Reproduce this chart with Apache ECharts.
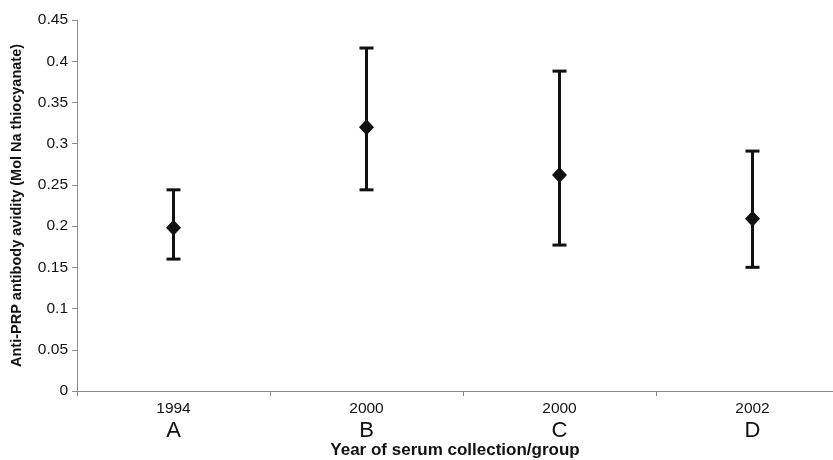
<!DOCTYPE html>
<html>
<head>
<meta charset="utf-8">
<script src="https://cdn.jsdelivr.net/npm/echarts@6/dist/echarts.min.js"></script>
<style>
  html, body { margin: 0; padding: 0; background: #fff; overflow: hidden; }
  /* the plot area runs past the right edge of the window, as in the original */
  #chart { width: 849px; height: 460px; }
</style>
</head>
<body>
<div id="chart"></div>
<script>
const years = ['1994', '2000', '2000', '2002'];
const groups = ['A', 'B', 'C', 'D'];
const means = [0.198, 0.320, 0.262, 0.209];
const lower = [0.160, 0.244, 0.177, 0.150];
const upper = [0.244, 0.416, 0.388, 0.291];
const yTicks = [0, 0.05, 0.1, 0.15, 0.2, 0.25, 0.3, 0.35, 0.4, 0.45];

const chart = echarts.init(document.getElementById('chart'));
const font = 'Liberation Sans, Arial, sans-serif';

chart.setOption({
  backgroundColor: '#fff',
  animation: false,
  textStyle: { fontFamily: font },
  grid: { left: 77, right: 0, top: 20, bottom: 69 },
  xAxis: {
    type: 'category',
    data: years.map((y, i) => y + '\n' + groups[i]),
    axisLine: { lineStyle: { color: '#8c8c8c', width: 1 } },
    axisTick: { show: true, length: 5, lineStyle: { color: '#8c8c8c' } },
    axisLabel: {
      margin: 8,
      formatter: (v) => {
        const parts = v.split('\n');
        return '{y|' + parts[0] + '}\n{l|' + parts[1] + '}';
      },
      rich: {
        y: { fontSize: 15.5, color: '#111', fontFamily: font, lineHeight: 19 },
        l: { fontSize: 22, color: '#111', fontFamily: font, lineHeight: 25 }
      }
    }
  },
  yAxis: {
    type: 'value',
    min: 0,
    max: 0.45,
    interval: 0.05,
    name: 'Anti-PRP antibody avidity (Mol Na thiocyanate)',
    nameLocation: 'middle',
    nameGap: 53,
    nameTextStyle: { fontSize: 14.5, fontWeight: 'bold', color: '#111', fontFamily: font },
    axisLine: { show: true, lineStyle: { color: '#8c8c8c', width: 1 } },
    axisTick: { show: true, length: 5, lineStyle: { color: '#8c8c8c' } },
    splitLine: { show: false },
    axisLabel: {
      fontSize: 15.5,
      color: '#111',
      margin: 9,
      formatter: (v) => {
        const t = yTicks.find((k) => Math.abs(k - v) < 1e-9);
        return t === undefined ? '' : String(t);
      }
    }
  },
  graphic: [{
    type: 'text',
    x: 455,
    y: 450,
    style: {
      text: 'Year of serum collection/group',
      font: 'bold 17px ' + font,
      fill: '#111',
      align: 'center',
      verticalAlign: 'middle'
    }
  }],
  series: [
    {
      type: 'custom',
      data: groups.map((g, i) => [i, lower[i], upper[i]]),
      renderItem: (params, api) => {
        const x = api.value(0);
        const lo = api.coord([x, api.value(1)]);
        const hi = api.coord([x, api.value(2)]);
        const half = 7;
        const style = { stroke: '#111', lineWidth: 3 };
        return {
          type: 'group',
          children: [
            { type: 'line', shape: { x1: lo[0], y1: lo[1], x2: hi[0], y2: hi[1] }, style },
            { type: 'line', shape: { x1: hi[0] - half, y1: hi[1], x2: hi[0] + half, y2: hi[1] }, style },
            { type: 'line', shape: { x1: lo[0] - half, y1: lo[1], x2: lo[0] + half, y2: lo[1] }, style }
          ]
        };
      },
      z: 2
    },
    {
      type: 'scatter',
      data: means,
      symbol: 'diamond',
      symbolSize: [15, 16],
      itemStyle: { color: '#111', opacity: 1 },
      z: 3
    }
  ]
});
</script>
</body>
</html>
